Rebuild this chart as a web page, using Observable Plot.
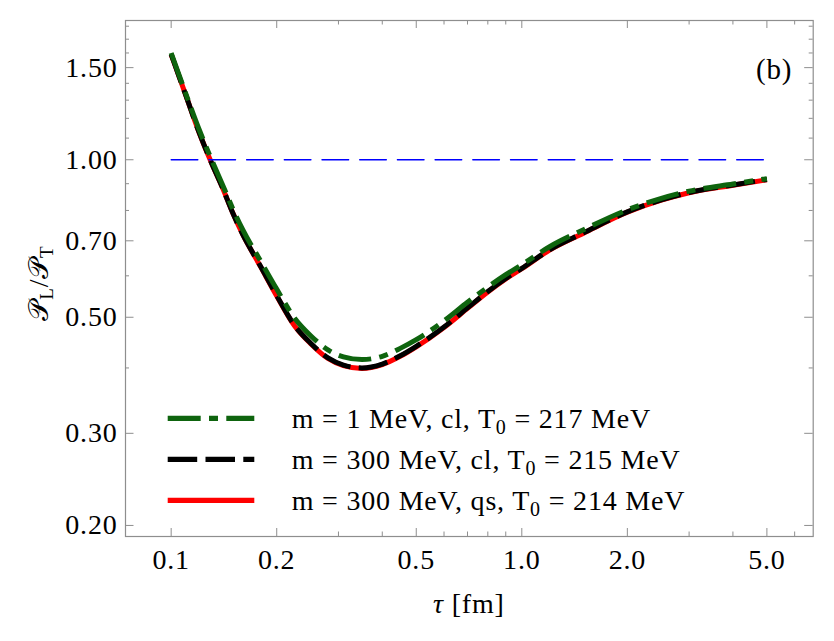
<!DOCTYPE html>
<html><head><meta charset="utf-8">
<script src="https://cdn.jsdelivr.net/npm/d3@7"></script>
<script src="https://cdn.jsdelivr.net/npm/@observablehq/plot@0.6"></script>
<style>body{margin:0;background:#fff}</style>
</head><body><div id="chart"></div>
<script>
// ---- data ----
const tau = [0.1,0.11,0.12,0.13,0.14,0.15,0.16,0.18,0.20,0.225,0.25,0.28,0.31,0.35,0.40,0.45,0.50,0.60,0.70,0.80,0.90,1.0,1.2,1.5,2.0,2.5,3.0,4.0,5.0];
const ratioM1cl   = [1.60,1.34,1.145,1.005,0.897,0.805,0.735,0.64,0.566,0.498,0.461,0.433,0.420,0.415,0.421,0.436,0.453,0.492,0.534,0.571,0.603,0.630,0.682,0.735,0.802,0.844,0.871,0.899,0.920];
const ratioM300cl = [1.59,1.33,1.13,0.99,0.885,0.79,0.72,0.625,0.55,0.482,0.446,0.418,0.405,0.400,0.407,0.422,0.440,0.479,0.521,0.560,0.593,0.620,0.673,0.725,0.795,0.838,0.866,0.895,0.917];
const ratioM300qs = [1.59,1.33,1.13,0.99,0.885,0.79,0.72,0.624,0.549,0.481,0.445,0.417,0.404,0.399,0.406,0.421,0.439,0.478,0.520,0.559,0.592,0.619,0.672,0.724,0.794,0.837,0.865,0.894,0.916];
const refTau = [0.1, 5.0];
const refRatio = [1.0, 1.0];
const xMajorTicks = [0.1,0.2,0.5,1,2,5];
const xMinorTicks = [0.3,0.4,0.6,0.7,0.8,0.9,3,4,6];
const yMajorTicks = [0.2,0.3,0.5,0.7,1.0,1.5];
const yMinorTicks = [0.4,0.6,0.8,0.9,1.1,1.2,1.3,1.4,1.6,1.7,1.8];
const seriesNames = ["m1cl","m300cl","m300qs"];
const legendMain = ["m = 1 MeV, cl, T", "m = 300 MeV, cl, T", "m = 300 MeV, qs, T"];
const legendTail = [" = 217 MeV", " = 215 MeV", " = 214 MeV"];

// ---- build table ----
const rows = [];
tau.forEach((t,i) => {
  rows.push({tau:t, v:ratioM300qs[i], s:"m300qs"});
  rows.push({tau:t, v:ratioM300cl[i], s:"m300cl"});
  rows.push({tau:t, v:ratioM1cl[i],   s:"m1cl"});
});
const ref = refTau.map((t,i)=>({tau:t, v:refRatio[i]}));

const W = 834, H = 641;
const mL = 125, mR = 21.3, mT = 20, mB = 105;
const fw = W - mL - mR, fh = H - mT - mB;
const gray = "#8e8e8e";
const FS = 28, LS = "0.8px";
const styles = {
  m1cl:   {stroke:"#0e640e", dash:"33,8.3,9,8.3"},
  m300cl: {stroke:"#000000", dash:"29.5,8.3"},
  m300qs: {stroke:"#ff0000", dash:null}
};
const lineFor = s => Plot.line(rows.filter(d=>d.s===s), {
  x:"tau", y:"v", stroke: styles[s].stroke, strokeWidth: 5,
  strokeDasharray: styles[s].dash || undefined, strokeLinecap:"butt", curve:"monotone-x"
});

const svg = Plot.plot({
  width: W, height: H,
  marginLeft: mL, marginRight: mR, marginTop: mT, marginBottom: mB,
  style: {fontFamily: "'Liberation Serif', 'Times New Roman', serif", fontSize: FS + "px", letterSpacing: LS, background: "#fff", color: "#000"},
  x: {type: "log", domain: [0.07409, 6.777]},
  y: {type: "log", domain: [0.1905, 1.8458]},
  marks: [
    Plot.frame({stroke: gray, strokeWidth: 1.2}),
    // inward ticks, all four sides
    Plot.ruleX(xMajorTicks, {x: d=>d, stroke: gray, insetTop: fh - 8}),
    Plot.ruleX(xMajorTicks, {x: d=>d, stroke: gray, insetBottom: fh - 8}),
    Plot.ruleX(xMinorTicks, {x: d=>d, stroke: gray, insetTop: fh - 4.5}),
    Plot.ruleX(xMinorTicks, {x: d=>d, stroke: gray, insetBottom: fh - 4.5}),
    Plot.ruleY(yMajorTicks, {y: d=>d, stroke: gray, insetRight: fw - 8.5}),
    Plot.ruleY(yMajorTicks, {y: d=>d, stroke: gray, insetLeft: fw - 8.5}),
    Plot.ruleY(yMinorTicks, {y: d=>d, stroke: gray, insetRight: fw - 4}),
    Plot.ruleY(yMinorTicks, {y: d=>d, stroke: gray, insetLeft: fw - 4}),
    Plot.axisX(xMajorTicks, {tickSize: 0, tickPadding: 13, tickFormat: d3.format(".1f"), label: null}),
    Plot.axisY(yMajorTicks, {tickSize: 0, tickPadding: 8, tickFormat: d3.format(".2f"), label: null}),
    lineFor("m300qs"),
    lineFor("m300cl"),
    lineFor("m1cl"),
    Plot.line(ref, {x:"tau", y:"v", stroke:"#0000ff", strokeWidth:1.3, strokeDasharray:"26.7,11"}),
    Plot.text(["(b)"], {frameAnchor:"top-right", dx:-21, dy:58, lineAnchor:"bottom", textAnchor:"end", fontSize: 29})
  ]
});

const sel = d3.select(svg);
// y-axis label
const yl = sel.append("text")
  .attr("transform", `translate(48,${mT + fh/2 + 5}) rotate(-90)`)
  .attr("text-anchor","middle").attr("font-size", FS).attr("fill","#000");
yl.append("tspan").text("\u{1D4AB}");
yl.append("tspan").attr("dy", 5).attr("font-size", 19).text("L");
yl.append("tspan").attr("dy", -5).text("/\u{1D4AB}");
yl.append("tspan").attr("dy", 5).attr("font-size", 19).text("T");
// x-axis label
const xl = sel.append("text")
  .attr("x", mL + fw/2).attr("y", 613).attr("text-anchor","middle").attr("font-size", FS).attr("fill","#000");
xl.append("tspan").attr("font-style","italic").text("\u03C4");
xl.append("tspan").text(" [fm]");

// legend
const lg = sel.append("g").attr("text-anchor","start");
seriesNames.forEach((s,i) => {
  const y = 418.3 + i*41;
  lg.append("line").attr("x1",167.7).attr("x2",254.3).attr("y1",y).attr("y2",y)
    .attr("stroke",styles[s].stroke).attr("stroke-width",5.3)
    .attr("stroke-dasharray", styles[s].dash || null);
  const t = lg.append("text").attr("x",291.7).attr("y",y+9.5).attr("font-size",FS)
    .attr("text-anchor","start").attr("fill","#000");
  t.append("tspan").text(legendMain[i]);
  t.append("tspan").attr("dy",6).attr("font-size",20).text("0");
  t.append("tspan").attr("dy",-6).text(legendTail[i]);
});

document.getElementById("chart").appendChild(svg);
</script>
</body></html>
